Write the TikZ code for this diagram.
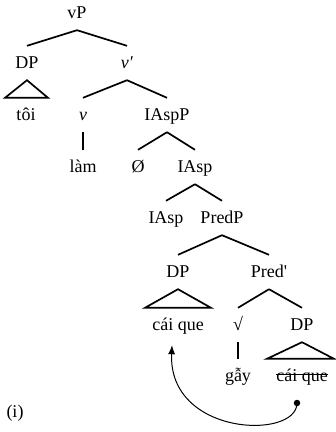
\documentclass[tikz,border=0pt]{standalone}
\usepackage{fontspec}
\setmainfont{Liberation Serif}
\usetikzlibrary{arrows.meta}

\begin{document}
\begin{tikzpicture}[x=1pt, y=-1pt, font=\fontsize{18}{21}\selectfont,
    lbl/.style={inner xsep=0pt, inner ysep=10pt, text height=12.5pt, text depth=1.5pt},
    branch/.style={line width=1.7pt},
    move/.style={line width=1pt, -{Latex[length=9pt,width=7pt]}}]
  \useasboundingbox (0,0) rectangle (336,432);

  % labels, row by row
  \node[lbl] (vp)      at ( 77, 13) {vP};
  \node[lbl] (dp1)     at ( 27, 63) {DP};
  \node[lbl] (vbar)    at (127, 63) {\textit{v′}};
  \node[lbl] (toi)     at ( 26,115) {tôi};
  \node[lbl] (v)       at ( 83,115) {\textit{v}};
  \node[lbl] (iaspp)   at (167,115) {IAspP};
  \node[lbl] (lam)     at ( 83,167) {làm};
  \node[lbl] (null)    at (138,167) {Ø};
  \node[lbl] (iaspbar) at (195,167) {IAsp};
  \node[lbl] (iasp)    at (166,218) {IAsp};
  \node[lbl] (predp)   at (222,218) {PredP};
  \node[lbl] (dp2)     at (178,272) {DP};
  \node[lbl] (predbar) at (269,272) {Pred\textquotesingle};
  \node[lbl] (cq1)     at (178,325) {cái que};
  \node[lbl] (root)    at (238,325) {√};
  \node[lbl] (dp3)     at (302,325) {DP};
  \node[lbl] (gay)     at (238,376) {gẫy};
  \node[lbl] (cq2)     at (302,376) {cái que};
  \node (ex) at (15,413) {(i)};

  % branches
  \draw[branch] (vp.south) -- (dp1.north);
  \draw[branch] (vp.south) -- (vbar.north);
  \draw[branch] (vbar.south) -- (v.north);
  \draw[branch] (vbar.south) -- (iaspp.north);
  \draw[branch] (v.south) -- (lam.north);
  \draw[branch] (iaspp.south) -- (null.north);
  \draw[branch] (iaspp.south) -- (iaspbar.north);
  \draw[branch] (iaspbar.south) -- (iasp.north);
  \draw[branch] (iaspbar.south) -- (predp.north);
  \draw[branch] (predp.south) -- (dp2.north);
  \draw[branch] (predp.south) -- (predbar.north);
  \draw[branch] (predbar.south) -- (root.north);
  \draw[branch] (predbar.south) -- (dp3.north);
  \draw[branch] (root.south) -- (gay.north);

  % roofs
  \draw[branch] (dp1.south) -- ([xshift=-21pt]toi.north) -- ([xshift=22pt]toi.north) -- cycle;
  \draw[branch] (dp2.south) -- ([xshift=-33pt]cq1.north) -- ([xshift=33pt]cq1.north) -- cycle;
  \draw[branch] (dp3.south) -- ([xshift=-35pt]cq2.north) -- ([xshift=32pt]cq2.north) -- cycle;

  % struck-out copy and movement
  \draw[line width=1pt] ([yshift=2pt]cq2.west) -- ([yshift=2pt]cq2.east);
  \node[circle, fill, inner sep=0pt, minimum size=6.5pt] (trace) at (297,403) {};
  \draw[move] (trace.center) .. controls +(0,37) and +(-4,91) .. ([xshift=-6pt,yshift=-3pt]cq1.south);
\end{tikzpicture}
\end{document}
